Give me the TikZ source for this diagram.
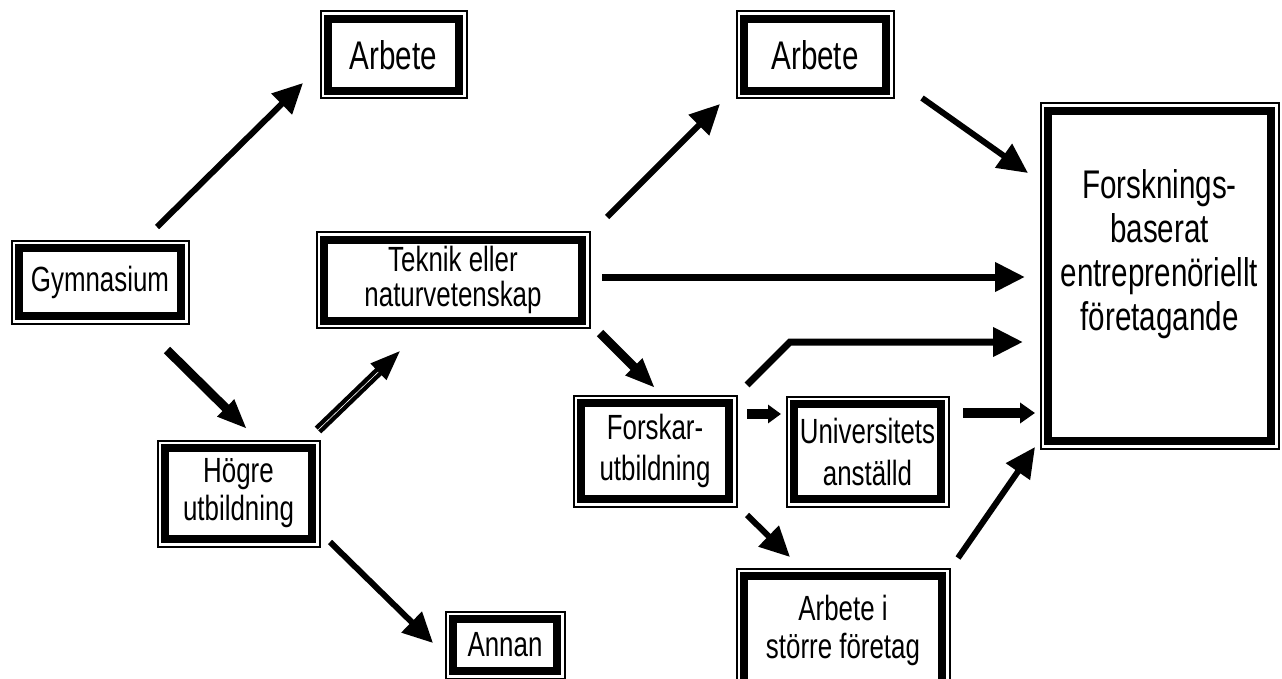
\documentclass[tikz,border=0pt]{standalone}
\usepackage{fontspec}
\setmainfont{Liberation Sans}[FakeStretch=0.74]
\usetikzlibrary{arrows.meta,positioning}
\tikzset{
  box/.style    = {draw, fill=white, line width=8pt, outer sep=0pt, inner sep=0pt,
                   align=center, font=\fontsize{35}{38}\selectfont,
                   preaction={draw, line width=17pt},
                   preaction={draw=white, line width=13pt}},
  post/.style   = {-{Triangle[length=30pt,width=28pt]}, line width=6pt},
  heavy/.style  = {-{Triangle[length=30pt,width=22pt]}, line width=9pt},
  hollow/.style = {-{Triangle[length=30pt,width=22pt]}, line width=4.4pt,
                   double=white, double distance=0.6pt},
  stub/.style   = {-{Triangle[length=13pt,width=18pt]}, line width=10pt}
}

\begin{document}
\begin{tikzpicture}[x=1pt,y=-1pt]
  \useasboundingbox (0,0) rectangle (1282,679);
  % boxes
  \node[box, minimum width=162pt, minimum height=68pt] (gym) at (100,282) {Gymnasium};
  \node[box, minimum width=131pt, minimum height=72pt, font=\fontsize{40}{42}\selectfont] (arb1) at (393.5,55) {Arbete};
  \node[box, minimum width=147pt, minimum height=91pt] (hog) at (238.5,493.5) {Högre\\utbildning};
  \node[box, minimum width=104pt, minimum height=52pt] (ann) at (505,645) {Annan};
  \node[box, minimum width=258pt, minimum height=81pt, font=\fontsize{35}{35}\selectfont] (tek) at (453,280) {Teknik eller\\naturvetenskap};
  \node[box, minimum width=142pt, minimum height=72pt, font=\fontsize{40}{42}\selectfont] (arb2) at (815,55) {Arbete};
  \node[box, minimum width=148pt, minimum height=96pt, font=\fontsize{35}{41}\selectfont] (fku) at (655,451) {Forskar-\\utbildning};
  \node[box, minimum width=147pt, minimum height=95pt, font=\fontsize{35}{42}\selectfont] (uni) at (867.5,451.5) {Universitets\\anställd};
  \node[box, minimum width=198pt, minimum height=108pt] (arbi) at (843,630) {Arbete i\\större företag};
  \node[box, minimum width=223pt, minimum height=330pt, font=\fontsize{40}{44}\selectfont] (fbe) at (1159.5,276)
    {Forsknings-\\baserat\\entreprenöriellt\\företagande\\[8pt]\mbox{}};

  % connectors
  \draw[post]   ([shift={(-24,-21)}]gym.north east) -- ([shift={(-25,-8)}]arb1.south west);
  \draw[heavy]  ([shift={(-14,34)}]gym.south east) -- ([shift={(8.5,-19)}]hog.north);
  \draw[hollow] ([shift={(6,-18)}]hog.north east) -- ([shift={(76,30.5)}]tek.south west);
  \draw[post]   ([shift={(18,3)}]hog.south east) -- ([shift={(-20,-2)}]ann.west);
  \draw[post]   ([shift={(25,-22.5)}]tek.north east) -- ([shift={(-24,13)}]arb2.south west);
  \draw[post, line width=7pt] ([shift={(20,-3)}]tek.east) -- ([shift={(-23,1)}]fbe.west);
  \draw[heavy]  ([shift={(18,12.5)}]tek.south east) -- ([shift={(0,-15)}]fku.north);
  \draw[post, line width=7pt] ([shift={(18,-18)}]fku.north east) -- ++(43,-43) -- ([shift={(-25,66)}]fbe.west);
  \draw[stub]   ([shift={(18,-37)}]fku.east) -- ([shift={(-13,-37.5)}]uni.west);
  \draw[stub, -{Triangle[length=15pt,width=20pt]}]
                ([shift={(22,-38.5)}]uni.east) -- ([shift={(-13,137)}]fbe.west);
  \draw[post]   ([shift={(18,16)}]fku.south east) -- ([shift={(-53,-19)}]arbi.north);
  \draw[post]   ([shift={(16,-18)}]arbi.north east) -- ([shift={(-13,6)}]fbe.south west);
  \draw[post]   ([shift={(36,7)}]arb2.south east) -- ([shift={(-20,62)}]fbe.north west);
\end{tikzpicture}
\end{document}
